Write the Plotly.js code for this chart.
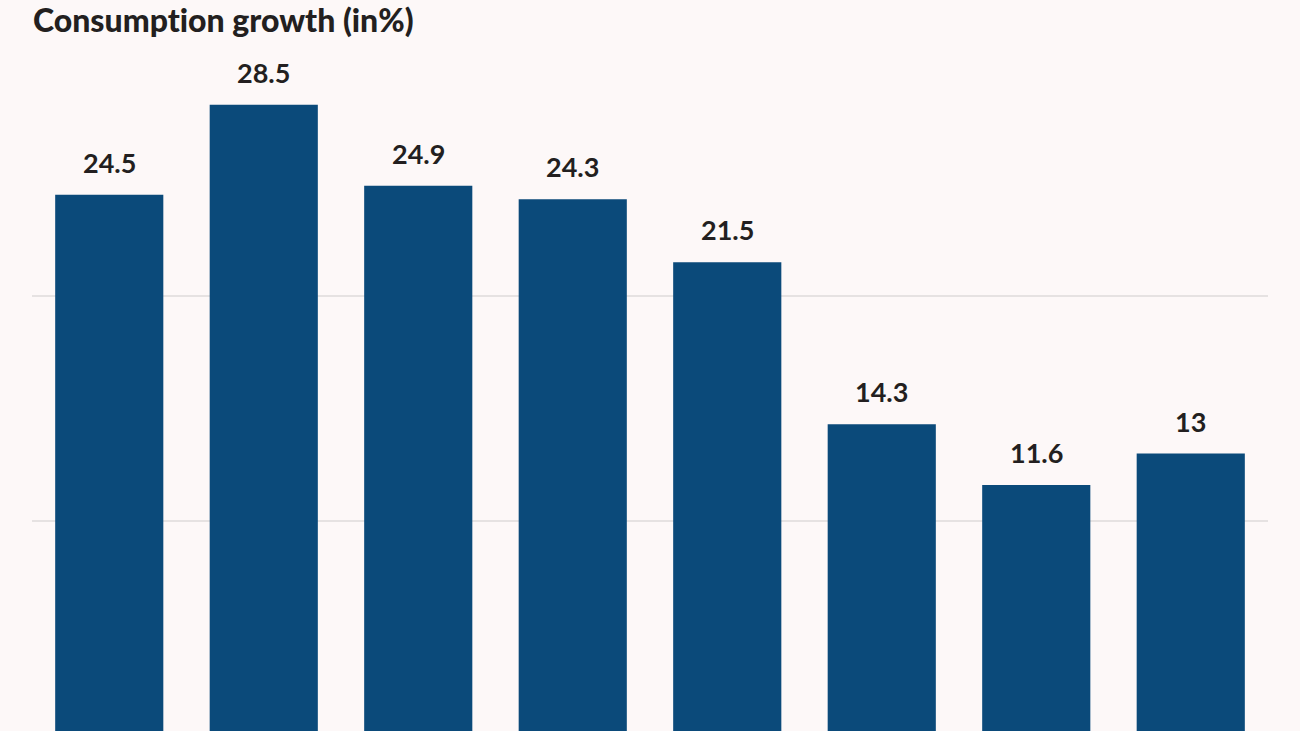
<!DOCTYPE html>
<html>
<head>
<meta charset="utf-8">
<script src="https://cdn.plot.ly/plotly-3.0.1.min.js"></script>
<style>
html,body{margin:0;padding:0;background:#fdf8f8;}
text{font-variant-ligatures:none;font-feature-settings:"liga" 0;}
</style>
</head>
<body>
<div id="chart" style="width:1300px;height:731px;"></div>
<script>
var categories = ["A","B","C","D","E","F","G","H"];
var values = [24.5, 28.5, 24.9, 24.3, 21.5, 14.3, 11.6, 13];
var labels = ["24.5","28.5","24.9","24.3","21.5","14.3","11.6","13"];
var gridTicks = [10, 20];

var trace = {
  type: "bar",
  x: categories,
  y: values,
  marker: {color: "#0b4a7a"},
  hoverinfo: "skip"
};

var annotations = categories.map(function(c, i){
  return {
    x: c, y: values[i], xref: "x", yref: "y",
    text: labels[i], showarrow: false,
    yanchor: "bottom", yshift: 14,
    font: {family: "Lato, 'Open Sans', sans-serif", size: 27, color: "#231f20", weight: 700}
  };
});

var layout = {
  width: 1300, height: 731,
  margin: {l: 32, r: 32, t: 60, b: 0, pad: 0},
  paper_bgcolor: "#fdf8f8",
  plot_bgcolor: "#fdf8f8",
  bargap: 0.3,
  showlegend: false,
  title: {
    text: "Consumption growth (in%)",
    xref: "container", yref: "container",
    x: 33/1300, xanchor: "left",
    y: 1 - 21/731, yanchor: "middle",
    font: {family: "Lato, 'Open Sans', sans-serif", size: 32, color: "#231f20", weight: 900}
  },
  xaxis: {
    showticklabels: false, showgrid: false, zeroline: false, showline: false, ticks: ""
  },
  yaxis: {
    range: [0.667, 30.49],
    tickvals: gridTicks,
    showticklabels: false,
    showgrid: true, gridcolor: "#e6e2e2", gridwidth: 2,
    zeroline: false, showline: false, ticks: ""
  },
  annotations: annotations
};

Plotly.newPlot("chart", [trace], layout, {displayModeBar: false, staticPlot: true});
</script>
</body>
</html>
